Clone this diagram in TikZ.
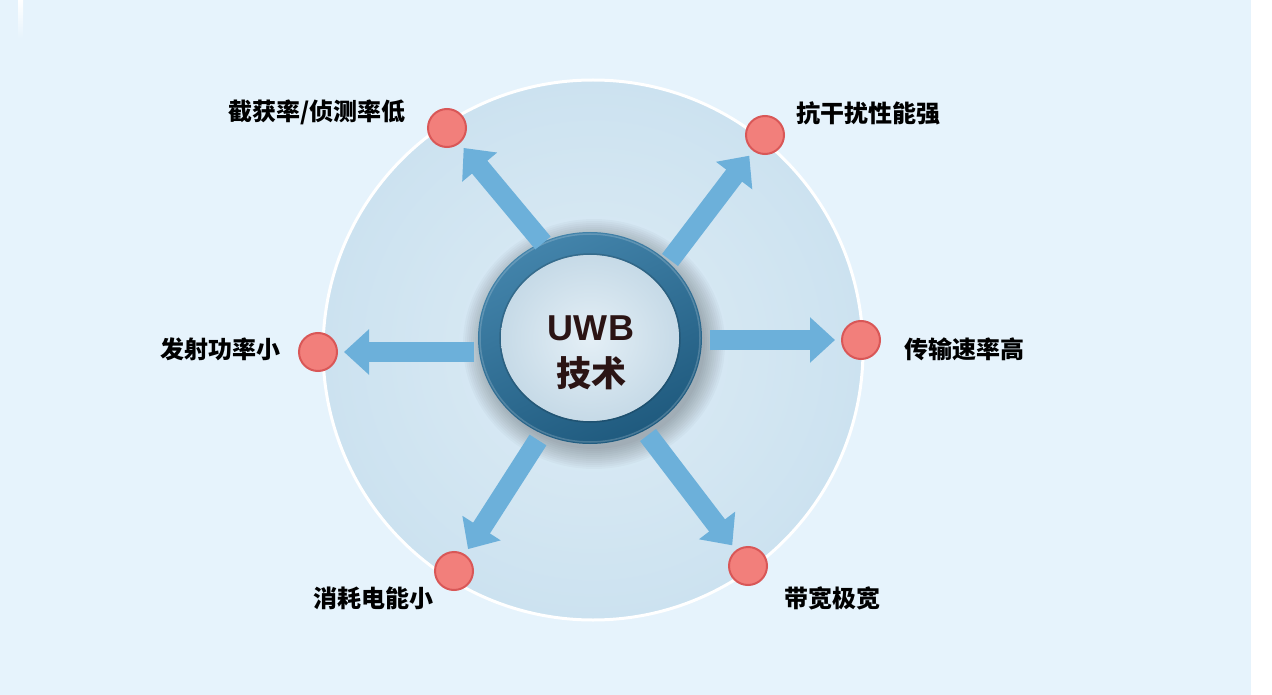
\documentclass[tikz,border=0pt]{standalone}
\usepackage{fontspec}
\setmainfont{Liberation Sans}
\newfontfamily\cjk{Noto Sans CJK SC}
\newfontfamily\latinb{Liberation Sans}
\usetikzlibrary{arrows.meta,shapes.geometric}
\definecolor{bg}{HTML}{E6F3FC}
\definecolor{bigin}{HTML}{DDECF5}
\definecolor{bigout}{HTML}{CCE2F0}
\definecolor{arrowc}{HTML}{6CB0DA}
\definecolor{dotfill}{HTML}{F27F7B}
\definecolor{dotedge}{HTML}{D95757}
\definecolor{ringlight}{HTML}{4384AB}
\definecolor{ringdark}{HTML}{1F5A7E}
\definecolor{innerlight}{HTML}{E4EFF6}
\definecolor{innerdark}{HTML}{C6DAE7}
\definecolor{txt}{HTML}{2B1414}
\tikzset{
  dotnode/.style={circle, minimum size=38pt, inner sep=0pt, fill=dotfill, draw=dotedge, line width=2pt},
  lab/.style={inner sep=0pt, font=\cjk\bfseries\fontsize{24}{28}\selectfont, text=black},
  blockarrow/.style={draw=arrowc, line width=20pt, -{Triangle[width=44pt,length=25pt]}, shorten >=6pt}
}
\begin{document}
\begin{tikzpicture}[x=1pt,y=-1pt]
\useasboundingbox (0,0) rectangle (1272,695);
\fill[white] (0,0) rectangle (1272,695);
\fill[bg] (0,0) rectangle (1251,695);
% glare mark top-left
\shade[top color=white, bottom color=bg] (18,0) rectangle (23,38);

% big circle
\node[circle, minimum size=540pt, inner sep=0pt, draw=white, line width=3pt, inner color=bigin, outer color=bigout] (big) at (593,350) {};

% ring shadow
\foreach \r in {1,3,...,21}{
  \fill[black, opacity=0.022] (594,344) ellipse ({110+\r} and {104+\r});
}

% ring
\node[ellipse, minimum width=224pt, minimum height=212pt, inner sep=0pt] (ring) at (590,338) {};
\shade[even odd rule, top color=ringlight, bottom color=ringdark, shading angle=25]
  (ring.center) ellipse (112 and 106) (ring.center) ellipse (89 and 83);
\shade[inner color=innerlight, outer color=innerdark] (ring.center) ellipse (89 and 83);
\draw[white, opacity=0.18, line width=1.5pt] (ring.center) ellipse (110 and 104);
\draw[black, opacity=0.15, line width=1.5pt] (ring.center) ellipse (90 and 84);

% centre text
\node[font=\latinb\bfseries\fontsize{36}{40}\selectfont, text=txt, inner sep=0pt] (uwb) at (591,328) {U\kern1ptW\kern1ptB};
\node[font=\cjk\bfseries\fontsize{35}{40}\selectfont, text=txt, inner sep=0pt] (js) at (591,373) {技术};

% dots
\node[dotnode] (d1) at (447,128) {};
\node[dotnode] (d2) at (765,135) {};
\node[dotnode] (d3) at (318,352) {};
\node[dotnode] (d4) at (861,340) {};
\node[dotnode] (d5) at (454,571) {};
\node[dotnode] (d6) at (748,566) {};

% arrow starts
\coordinate (s1) at (543,243);
\coordinate (s2) at (670,260);
\coordinate (s3) at (474,352);
\coordinate (s4) at (710,340);
\coordinate (s5) at (538,440);
\coordinate (s6) at (648,435);

\draw[blockarrow] (s1) -- (d1);
\draw[blockarrow] (s2) -- (d2);
\draw[blockarrow] (s3) -- (d3);
\draw[blockarrow] (s4) -- (d4);
\draw[blockarrow] (s5) -- (d5);
\draw[blockarrow] (s6) -- (d6);

% labels
\node[lab, anchor=east] (t1) at (406,112) {截获率/侦测率低};
\node[lab, anchor=west] (t2) at (796,113) {抗干扰性能强};
\node[lab, anchor=east] (t3) at (281,349) {发射功率小};
\node[lab, anchor=west] (t4) at (904,349) {传输速率高};
\node[lab, anchor=east] (t5) at (434,598) {消耗电能小};
\node[lab, anchor=west] (t6) at (784,598) {带宽极宽};
\end{tikzpicture}
\end{document}
